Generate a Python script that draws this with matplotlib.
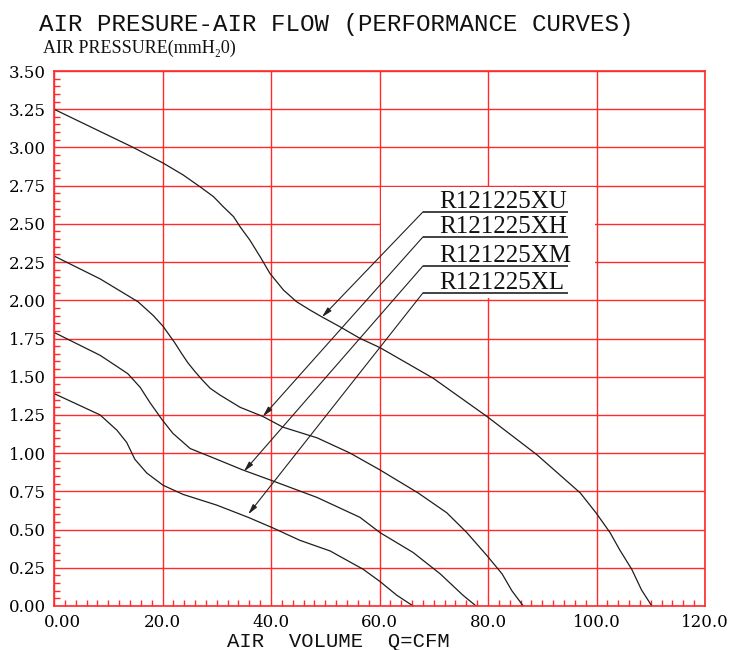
import matplotlib
matplotlib.use('Agg')
import matplotlib.pyplot as plt
from matplotlib.patches import Rectangle
from matplotlib.ticker import MultipleLocator
import matplotlib.transforms as mtransforms

# ---- data ----
xu_x = [0, 14.6, 20.2, 23.8, 26.9, 29.4, 31.2, 33.1, 34.3, 36.1, 38.0, 39.8, 42.3, 44.7, 47.2, 49.3,
        52.7, 56.4, 60.1, 69.9, 79.8, 89.0, 97.0, 99.9, 102.5, 104.3, 106.5, 108.3, 110.2]
xu_y = [3.25, 3.00, 2.896, 2.82, 2.743, 2.678, 2.612, 2.547, 2.481, 2.394, 2.285, 2.176, 2.067, 1.991,
        1.936, 1.893, 1.827, 1.751, 1.69, 1.49, 1.24, 0.99, 0.74, 0.61, 0.48, 0.366, 0.24, 0.105, 0.0]

xh_x = [0, 8.5, 15.5, 18.3, 20.1, 22.3, 23.5, 24.7, 26.0, 27.3, 28.8, 30.6, 34.3, 38.5, 42.2, 48.5,
        54.6, 60.1, 67.1, 72.4, 76.1, 79.8, 82.6, 84.4, 86.5]
xh_y = [2.29, 2.14, 1.99, 1.90, 1.83, 1.72, 1.653, 1.59, 1.533, 1.48, 1.424, 1.38, 1.30, 1.24, 1.17,
        1.10, 1.00, 0.89, 0.74, 0.61, 0.48, 0.33, 0.21, 0.10, 0.0]

xm_x = [0, 8.5, 13.6, 15.9, 17.7, 19.9, 21.9, 25.1, 30.0, 34.8, 40.2, 48.5, 56.4, 60.1, 66.2, 71.2, 75.4, 77.8]
xm_y = [1.79, 1.64, 1.52, 1.43, 1.33, 1.22, 1.13, 1.03, 0.96, 0.89, 0.82, 0.71, 0.58, 0.48, 0.35, 0.21, 0.07, 0.0]

xl_x = [0, 8.5, 11.6, 13.4, 14.9, 17.1, 20.1, 23.8, 30.0, 35.8, 40.4, 45.3, 50.9, 57.0, 60.1, 63.2, 66.2]
xl_y = [1.39, 1.25, 1.15, 1.07, 0.96, 0.87, 0.79, 0.73, 0.66, 0.58, 0.51, 0.43, 0.36, 0.24, 0.16, 0.07, 0.0]

series_names = ['R121225XU', 'R121225XH', 'R121225XM', 'R121225XL']
label_y = [2.578, 2.414, 2.224, 2.048]          # underline heights
arrow_tips = [(49.4, 1.89), (38.5, 1.24), (35.0, 0.88), (35.8, 0.60)]

x_ticks = [0, 20, 40, 60, 80, 100, 120]
x_tick_labels = ['0.00', '20.0', '40.0', '60.0', '80.0', '100.0', '120.0']
y_ticks = [0, 0.25, 0.5, 0.75, 1.0, 1.25, 1.5, 1.75, 2.0, 2.25, 2.5, 2.75, 3.0, 3.25, 3.5]
y_tick_labels = ['0.00', '0.25', '0.50', '0.75', '1.00', '1.25', '1.50', '1.75',
                 '2.00', '2.25', '2.50', '2.75', '3.00', '3.25', '3.50']

RED = '#ff2a2a'
W, H = 731, 650

fig = plt.figure(figsize=(W / 100, H / 100), dpi=100)
ax = fig.add_axes([54 / W, 1 - 606 / H, (705 - 54) / W, (606 - 71) / H])
ax.set_xlim(0, 120)
ax.set_ylim(0, 3.5)

ax.set_xticks(x_ticks)
ax.set_xticklabels(x_tick_labels, fontfamily='DejaVu Serif', fontsize=12)
ax.set_yticks(y_ticks)
ax.set_yticklabels(y_tick_labels, fontfamily='DejaVu Serif', fontsize=12)
ax.xaxis.set_minor_locator(MultipleLocator(2))
ax.yaxis.set_minor_locator(MultipleLocator(0.05))
ax.tick_params(axis='x', which='major', length=0, pad=6)
ax.tick_params(axis='y', which='major', length=0, pad=6)
ax.tick_params(which='minor', direction='in', length=4, width=1.0, color=RED)
ax.tick_params(which='both', top=False, right=False)

# shift first x label to the right as in reference
lab0 = ax.get_xticklabels()[0]
lab0.set_transform(lab0.get_transform() + mtransforms.ScaledTranslation(8 / 100, 0, fig.dpi_scale_trans))

for s in ax.spines.values():
    s.set_color(RED)
    s.set_linewidth(1.2)

ax.grid(True, which='major', color=RED, linewidth=1.0)
ax.set_axisbelow('line')

# white box behind labels (covers inner gridlines only)
ax.add_patch(Rectangle((60.35, 2.012), 100 - 60.7, 0.75 - 0.024, facecolor='white',
                       edgecolor='none', zorder=1.6))

curve_kw = dict(color='#1e1e1e', linewidth=0.9, zorder=2)
ax.plot(xu_x, xu_y, **curve_kw)
ax.plot(xh_x, xh_y, **curve_kw)
ax.plot(xm_x, xm_y, **curve_kw)
ax.plot(xl_x, xl_y, **curve_kw)

for name, ly, tip in zip(series_names, label_y, arrow_tips):
    ax.plot([68.0, 94.7], [ly, ly], color='#222222', linewidth=1.2, zorder=3, solid_capstyle='butt')
    ax.annotate('', xy=tip, xytext=(68.0, ly),
                arrowprops=dict(arrowstyle='-|>,head_length=0.6,head_width=0.15',
                                color='#222222', lw=0.8, shrinkA=0, shrinkB=0),
                zorder=3)
    ax.text(71.0, ly + 0.026, name, fontfamily='Liberation Serif', fontsize=18,
            ha='left', va='baseline', color='#111111', zorder=4)

# titles
fig.text(39 / W, 1 - 31 / H, 'AIR PRESURE-AIR FLOW (PERFORMANCE CURVES)',
         fontfamily='Liberation Mono', fontsize=17.4, ha='left', va='baseline', color='#111111')
fig.text(43 / W, 1 - 53 / H, 'AIR PRESSURE(mmH\u20820)',
         fontfamily=['Liberation Serif', 'DejaVu Serif'], fontsize=13, ha='left', va='baseline',
         color='#111111')
fig.text(227 / W, 1 - 647 / H, 'AIR  VOLUME  Q=CFM',
         fontfamily='Liberation Mono', fontsize=14.9, ha='left', va='baseline', color='#111111')

fig.savefig('out.png', dpi=100)
